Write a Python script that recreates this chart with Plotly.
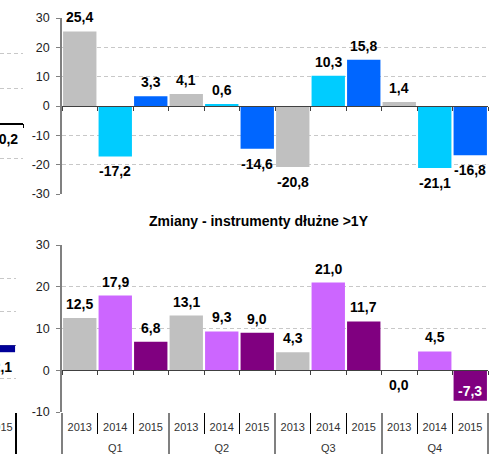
import plotly.graph_objects as go

# ---------------- data ----------------
quarters = ["Q1", "Q2", "Q3", "Q4"]
years = ["2013", "2014", "2015"]

top_2013 = [25.4, 4.1, -20.8, 1.4]
top_2014 = [-17.2, 0.6, 10.3, -21.1]
top_2015 = [3.3, -14.6, 15.8, -16.8]

bot_2013 = [12.5, 13.1, 4.3, 0.0]
bot_2014 = [17.9, 9.3, 21.0, 4.5]
bot_2015 = [6.8, 9.0, 11.7, -7.3]

# partially visible neighbouring charts (cut at left edge)
left_top_value = [-0.2]
left_bottom_value = [-2.1]
left_bottom_year = ["2015"]

top_ticks = [-30, -20, -10, 0, 10, 20, 30]
bottom_ticks = [-10, 0, 10, 20, 30]
left_ticks = [-20, -10, 0, 10, 20, 30]

top_title = "Zmiany - instrumenty udziałowe"
bottom_title = "Zmiany - instrumenty dłużne >1Y"

# ---------------- styles ----------------
W, H = 495, 454
FONT = "Liberation Sans, Arial, sans-serif"
top_colors = {"2013": "#C0C0C0", "2014": "#00CCFF", "2015": "#0066FF"}
bot_colors = {"2013": "#C0C0C0", "2014": "#CC66FF", "2015": "#800080"}
LEFT_COLOR = "#000099"
GRID = "#C8C8C8"
DASH = "4px,3px"
DIVIDER = "#808080"

def fmt(v):
    return f"{v:.1f}".replace(".", ",")

def tick_text(vals):
    return [str(v) for v in vals]

# interleave by quarter
top_series = {"2013": top_2013, "2014": top_2014, "2015": top_2015}
bot_series = {"2013": bot_2013, "2014": bot_2014, "2015": bot_2015}
q_lvl, y_lvl, top_vals, bot_vals, top_cols, bot_cols = [], [], [], [], [], []
for qi, q in enumerate(quarters):
    for yr in years:
        q_lvl.append(q)
        y_lvl.append(yr)
        top_vals.append(top_series[yr][qi])
        bot_vals.append(bot_series[yr][qi])
        top_cols.append(top_colors[yr])
        bot_cols.append(bot_colors[yr])
n = len(top_vals)
cats = [f"{q} {y}" for q, y in zip(q_lvl, y_lvl)]
ny = len(years)
q_centers = [qi * ny + (ny - 1) / 2 for qi in range(len(quarters))]
q_bounds = [qi * ny - 0.5 for qi in range(len(quarters) + 1)]
bounds = [i - 0.5 for i in range(n + 1)]
year_bounds = [b for b in bounds if b not in q_bounds]

# ---------------- geometry (paper fractions) ----------------
main_x = [62 / W, 488 / W]
top_y = [1 - 194 / H, 1 - 18 / H]
bot_y = [1 - 412 / H, 1 - 245 / H]
left_top_x = [0, 23 / W]
left_bot_x = [0, 16 / W]

top_range = [-30, 30]
bot_range = [-10, 30]
left_range = [-20, 30]
xr = [-0.5, n - 0.5]
left_top_xr = [-0.157, 0.5]
left_bot_xr = [-0.0143, 0.5]

def zero_pos(dom, rng):
    return dom[0] + (0 - rng[0]) / (rng[1] - rng[0]) * (dom[1] - dom[0])

fig = go.Figure()

fig.add_trace(go.Bar(x=cats, y=top_vals,
                     marker=dict(color=top_cols, line=dict(width=0)),
                     xaxis="x", yaxis="y", showlegend=False, hoverinfo="skip"))
fig.add_trace(go.Bar(x=cats, y=bot_vals,
                     marker=dict(color=bot_cols, line=dict(width=0)),
                     xaxis="x2", yaxis="y2", showlegend=False, hoverinfo="skip"))
for ax in ["x3", "x4", "x7", "x8"]:
    fig.add_trace(go.Scatter(x=[], y=[], xaxis=ax, yaxis="y2", showlegend=False))
fig.add_trace(go.Bar(x=["Q4 2015"], y=left_top_value,
                     marker=dict(color=LEFT_COLOR, line=dict(width=0)),
                     xaxis="x5", yaxis="y5", showlegend=False, hoverinfo="skip"))
fig.add_trace(go.Bar(x=left_bottom_year, y=left_bottom_value,
                     marker=dict(color=LEFT_COLOR, line=dict(width=0)),
                     xaxis="x6", yaxis="y6", showlegend=False, hoverinfo="skip"))
fig.add_trace(go.Scatter(x=[], y=[], xaxis="x9", yaxis="y6", showlegend=False))

tickfont = dict(family=FONT, size=12.5, color="#222")
yaxis_common = dict(showline=True, linecolor="#808080", linewidth=1.5,
                    ticks="outside", ticklen=4, tickcolor="#808080",
                    showgrid=True, gridcolor=GRID, griddash=DASH, gridwidth=1,
                    zeroline=False, tickfont=tickfont, ticklabelstandoff=4,
                    fixedrange=True, automargin=False)
cat_font = dict(family=FONT, size=11, color="#333")
hidden = dict(showgrid=False, zeroline=False, automargin=False)
YEAR_STANDOFF = 7
Q_STANDOFF = 28

fig.update_layout(
    width=W, height=H,
    margin=dict(l=0, r=0, t=0, b=0, autoexpand=False),
    paper_bgcolor="white", plot_bgcolor="white",
    bargap=0.06, barmode="relative",
    showlegend=False,
    font=dict(family=FONT),
    # top chart: category axis sitting on the zero line
    xaxis=dict(type="category", domain=main_x, anchor="free", position=zero_pos(top_y, top_range),
               range=xr, showline=True, linecolor="#404040", linewidth=1,
               ticks="outside", tickson="boundaries", ticklen=4, tickcolor="#404040",
               showticklabels=False, **hidden),
    yaxis=dict(domain=top_y, anchor="x", range=top_range, tickvals=top_ticks,
               ticktext=tick_text(top_ticks), **yaxis_common),
    # bottom chart: year labels
    xaxis2=dict(type="category", domain=main_x, anchor="y2", range=xr,
                tickmode="array", tickvals=cats, ticktext=y_lvl,
                showline=False, ticks="", tickfont=cat_font, ticklabelstandoff=YEAR_STANDOFF,
                tickangle=0, **hidden),
    # zero line with boundary ticks
    xaxis3=dict(overlaying="x2", anchor="free", position=zero_pos(bot_y, bot_range),
                type="linear", range=xr, showline=True, linecolor="#404040",
                linewidth=1, ticks="outside", tickvals=bounds, ticklen=4, tickcolor="#404040",
                showticklabels=False, **hidden),
    # year separators
    xaxis4=dict(overlaying="x2", anchor="free", position=bot_y[0],
                type="linear", range=xr, showline=False,
                ticks="outside", tickvals=year_bounds, ticklen=21, tickcolor="#000",
                tickwidth=1, showticklabels=False, **hidden),
    # quarter labels
    xaxis7=dict(overlaying="x2", anchor="free", position=bot_y[0],
                type="linear", range=xr, showline=False, ticks="",
                tickvals=q_centers, ticktext=quarters, tickfont=cat_font,
                ticklabelstandoff=Q_STANDOFF, tickangle=0, **hidden),
    # quarter dividers
    xaxis8=dict(overlaying="x2", anchor="free", position=bot_y[0],
                type="linear", range=xr, showline=False,
                ticks="outside", tickvals=q_bounds, ticklen=44, tickcolor=DIVIDER,
                tickwidth=2, showticklabels=False, **hidden),
    yaxis2=dict(domain=bot_y, anchor="x2", range=bot_range, tickvals=bottom_ticks,
                ticktext=tick_text(bottom_ticks), **yaxis_common),
    # partially visible left charts
    xaxis5=dict(type="category", domain=left_top_x, anchor="free",
                position=zero_pos(top_y, left_range), range=left_top_xr,
                showline=True, linecolor="#000", linewidth=1.5, ticks="outside",
                tickson="boundaries", ticklen=4, tickcolor="#000",
                showticklabels=False, **hidden),
    yaxis5=dict(domain=top_y, anchor="x5", range=left_range, tickvals=left_ticks,
                showticklabels=False, ticks="", showline=False, showgrid=True,
                gridcolor=GRID, griddash=DASH, zeroline=False, automargin=False),
    xaxis6=dict(type="category", domain=left_bot_x, anchor="y6", range=left_bot_xr,
                showline=False, ticks="", tickfont=cat_font, ticklabelstandoff=YEAR_STANDOFF,
                tickangle=0, **hidden),
    xaxis9=dict(overlaying="x6", anchor="free", position=bot_y[0],
                type="linear", range=left_bot_xr, showline=False,
                ticks="outside", tickvals=[0.5], ticklen=44, tickcolor="#000",
                tickwidth=1.5, showticklabels=False, **hidden),
    yaxis6=dict(domain=bot_y, anchor="x6", range=left_range, tickvals=left_ticks,
                showticklabels=False, ticks="", showline=False, showgrid=True,
                gridcolor=GRID, griddash=DASH, zeroline=True, zerolinecolor="#808080",
                zerolinewidth=1, automargin=False),
)

annotations = []
label_font = dict(family=FONT, size=14, color="#000", weight="bold")

def add_label(xref, yref, i, v, inside=False):
    if inside:
        shift, col = 10, "#FFFFFF"
    elif v > 0:
        shift, col = 14, "#000"
    else:
        shift, col = -15, "#000"
    annotations.append(dict(xref=xref, yref=yref, x=i, y=v, text=fmt(v), showarrow=False,
                            yanchor="middle", xanchor="center", yshift=shift,
                            font=dict(label_font, color=col)))

for i, v in enumerate(top_vals):
    add_label("x", "y", i, v)
for i, v in enumerate(bot_vals):
    add_label("x3", "y2", i, v, inside=(i == n - 1))
add_label("x5", "y5", 0, left_top_value[0])
add_label("x6", "y6", 0, left_bottom_value[0])

annotations.append(dict(xref="paper", yref="paper", x=259 / W, y=1 - 221 / H,
                        text=bottom_title, showarrow=False, xanchor="center", yanchor="middle",
                        font=dict(family=FONT, size=14, color="#000", weight="bold")))
annotations.append(dict(xref="paper", yref="paper", x=140 / W, y=1,
                        text=top_title, showarrow=False, xanchor="left", yanchor="bottom",
                        yshift=2,
                        font=dict(family=FONT, size=14, color="#000", weight="bold")))
fig.update_layout(annotations=annotations)

fig.write_html("out.html", config={"displayModeBar": False},
               post_script="document.body.style.margin='0';document.body.style.overflow='hidden';")
